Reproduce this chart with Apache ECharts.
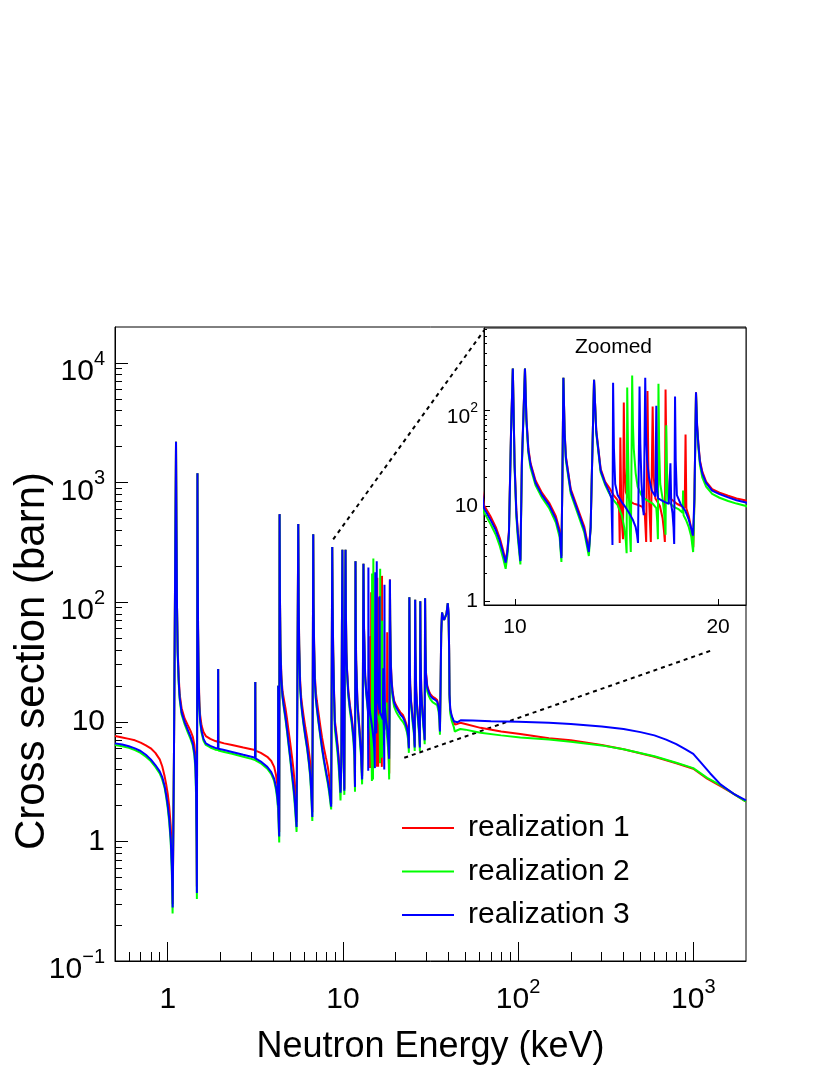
<!DOCTYPE html>
<html>
<head>
<meta charset="utf-8">
<script src="https://cdn.jsdelivr.net/npm/echarts@6/dist/echarts.min.js"></script>
<style>
  html, body { margin: 0; padding: 0; background: #fff; }
  #chart { width: 830px; height: 1075px; }
</style>
</head>
<body>
<div id="chart"></div>
<script>
const FONT = "'Liberation Sans', Arial, sans-serif";

const seriesNames = ['realization 1', 'realization 2', 'realization 3'];
const seriesColors = ['#ff0000', '#00ff00', '#0000ff'];

// [energy keV, cross section barn]
const realization1 = [
  [0.5,7.6],[0.55,7.4],[0.6,7.2],[0.65,7.0],[0.7,6.7],[0.75,6.35],[0.8,6.0],[0.85,5.5],[0.9,4.85],[0.93,4.25],[0.96,3.5],[0.98,3.0],[1.0,2.5],[1.02,1.95],[1.04,1.35],[1.055,0.8],[1.068,0.3],[1.085,5],[1.1,120],[1.115,2200],[1.122,400],[1.13,90],[1.14,40],[1.155,24],[1.17,17],[1.2,13],[1.25,10.6],[1.3,9.4],[1.35,8.4],[1.39,7.5],[1.42,6.4],[1.44,5.0],[1.452,3.0],[1.462,1.2],[1.467,0.42],[1.478,1200],[1.484,200],[1.49,62],[1.5,28],[1.515,15],[1.53,11.5],[1.56,9.3],[1.6,8.2],[1.65,7.6],[1.75,7.2],[1.87,6.9],[1.935,6.8],[1.94,27.7],[1.945,6.8],[2.1,6.6],[2.33,6.4],[2.7,6.1],[3.0,5.9],[3.15,5.8],[3.16,21.5],[3.17,5.75],[3.4,5.5],[3.7,5.1],[3.9,4.7],[4.05,4.2],[4.15,3.6],[4.22,3.0],[4.26,2.5],[4.27,20],[4.28,2.2],[4.31,1.5],[4.33,1.2],[4.35,545],[4.37,120],[4.4,45],[4.45,25],[4.52,18],[4.6,15.5],[4.7,13],[4.8,10.5],[4.9,8.3],[5.0,6.7],[5.12,5.1],[5.22,4.0],[5.3,3.1],[5.37,2.2],[5.44,1.45],[5.56,450],[5.59,110],[5.63,45],[5.7,22],[5.78,16],[5.86,13.5],[5.95,11.5],[6.1,9],[6.25,7.3],[6.4,5.6],[6.5,4.6],[6.58,3.5],[6.64,2.5],[6.69,1.75],[6.77,370],[6.8,100],[6.85,45],[6.92,24],[7.0,18],[7.1,15],[7.25,12],[7.45,9],[7.6,7.4],[7.8,6],[8.0,5],[8.2,4.2],[8.35,3.5],[8.45,2.9],[8.57,2.05],[8.69,290],[8.73,110],[8.8,40],[8.9,18],[9.0,10.2],
  [9.2,7.8],[9.37,6.0],[9.5,4.6],[9.6,3.5],[9.69,2.65],[9.75,3.5],[9.8,5.5],[9.87,62],[9.93,275],[9.97,60],[9.99,28],[10.05,9],[10.1,5.5],[10.19,2.75],[10.24,28],[10.35,275],[10.4,85],[10.47,40],[10.55,28],[10.73,18.5],[10.97,13.7],[11.24,10.8],[11.5,7.8],[11.65,5.6],[11.72,3.0],[11.76,20],[11.8,220],[11.85,60],[11.9,33],[12.1,15],[12.4,9.3],[12.67,6.1],[12.87,3.5],[12.95,6],[13.0,20],[13.1,210],[13.2,62],[13.4,24.5],
  [13.6,18],[13.8,15.5],[14.0,13],[14.2,11.5],[14.27,9],[14.3,4.1],[14.33,52],[14.37,12],[14.42,6],[14.46,4.5],[14.5,121],[14.54,25],[14.6,14],[14.8,11.2],[15.0,10.6],[15.2,10.3],[15.45,9.8],[15.58,8],[15.65,4.2],[15.72,160],[15.77,25],[15.82,10],[15.9,4.2],[16.0,110],[16.06,20],[16.15,12],[16.4,10],[16.55,7.5],[16.63,5.5],[16.68,4.2],[16.72,166],[16.77,30],[16.85,15],[17.0,12],[17.4,10.5],[17.85,9.6],[17.9,56],[17.95,9.4],[18.1,7.8],[18.25,5.8],[18.33,4.3],[18.38,3.7],[18.45,12],[18.55,155],[18.62,70],[18.7,45],[18.8,30],[18.95,23],[19.2,18],[19.6,15],[20.1,13.8],[20.7,12.8],[21.3,12],[22,11.4],
  [22.6,10.4],[23.2,9.2],[23.6,7.8],[23.8,6.1],[23.95,110],[24.05,40],[24.2,21],[24.5,15],[24.8,12.5],[25.1,10.5],[25.4,9],[25.6,7.2],[25.7,6.3],[25.85,105],[25.95,40],[26.2,19],[26.5,14],[26.8,11.5],[27.1,9.5],[27.35,7.8],[27.5,6.3],[27.65,102],[27.75,40],[28.0,19],[28.3,14],[28.6,11.5],[28.9,9.5],[29.2,8],[29.3,7.2],[29.45,108],[29.6,45],[29.8,26],[30.3,20],[31.0,18],[31.6,17],[32.5,16.2],[33.5,15.8],[34.5,15.2],[35.2,13.5],[35.6,11],[35.8,8.6],[36.1,20],[36.4,55],[36.8,82],[37.2,76],[37.8,71],[38.5,70],[39.0,80],[39.7,98],[40.1,80],[40.4,40],[40.6,17],[41.0,12.5],[41.8,11],[43,9.9],[43.5,9.5],[45,9.6],[46.8,9.8],[50,9.6],[61,8.9],[80,8.3],[103,7.9],[150,7.3],[200,7.0],[300,6.4],[400,5.9],[600,5.1],[800,4.5],[1000,4.05],[1200,3.35],[1430,2.9],[1700,2.5],[2000,2.15]
];

const realization2 = [
  [0.5,6.4],[0.55,6.25],[0.6,6.05],[0.65,5.8],[0.7,5.5],[0.75,5.1],[0.8,4.7],[0.85,4.2],[0.9,3.7],[0.93,3.3],[0.96,2.8],[0.98,2.35],[1.0,1.9],[1.02,1.45],[1.04,0.98],[1.055,0.56],[1.066,0.25],[1.085,5],[1.1,120],[1.115,2200],[1.122,400],[1.13,88],[1.14,36],[1.155,21],[1.17,15.3],[1.2,11.5],[1.25,9.5],[1.3,8.2],[1.35,7.2],[1.39,6.3],[1.42,5.2],[1.44,3.9],[1.452,2.3],[1.462,0.9],[1.467,0.33],[1.478,1200],[1.484,185],[1.49,58],[1.5,25],[1.515,13],[1.53,10],[1.56,8.1],[1.6,6.95],[1.65,6.4],[1.75,6.1],[1.87,5.85],[1.935,5.8],[1.94,27.7],[1.945,5.75],[2.1,5.6],[2.33,5.4],[2.7,5.1],[3.0,4.9],[3.15,4.8],[3.16,21.5],[3.17,4.75],[3.4,4.5],[3.7,4.05],[3.9,3.65],[4.05,3.2],[4.15,2.7],[4.22,2.25],[4.26,1.9],[4.27,20],[4.28,1.7],[4.31,1.2],[4.33,0.98],[4.35,545],[4.37,110],[4.4,40],[4.45,22],[4.52,16],[4.6,13],[4.7,10.5],[4.8,8.2],[4.9,6.3],[5.0,4.9],[5.12,3.5],[5.22,2.7],[5.3,2.1],[5.37,1.6],[5.44,1.2],[5.56,450],[5.59,100],[5.63,40],[5.7,19],[5.78,14],[5.86,11.5],[5.95,9.6],[6.1,7.4],[6.25,5.9],[6.4,4.4],[6.5,3.5],[6.58,2.6],[6.64,1.95],[6.69,1.48],[6.77,370],[6.8,90],[6.85,40],[6.92,21],[7.0,15.5],[7.1,12.7],[7.25,9.9],[7.45,7.3],[7.6,5.9],[7.8,4.6],[8.0,3.7],[8.2,3.05],[8.35,2.55],[8.45,2.2],[8.57,1.85],[8.69,290],[8.73,100],[8.8,36],[8.9,16],[9.0,8.6],
  [9.2,6.5],[9.37,5.0],[9.5,3.8],[9.6,2.9],[9.69,2.2],[9.75,3.1],[9.8,5],[9.87,58],[9.93,275],[9.97,55],[9.99,25],[10.05,7.8],[10.1,4.7],[10.19,2.45],[10.24,25],[10.35,275],[10.4,78],[10.47,36],[10.55,25],[10.73,16.5],[10.97,12.2],[11.24,9.5],[11.5,6.7],[11.65,4.7],[11.72,2.6],[11.76,20],[11.8,220],[11.85,55],[11.9,30],[12.1,13.5],[12.4,8.2],[12.67,5.3],[12.87,3.0],[12.95,6],[13.0,20],[13.1,210],[13.2,58],[13.4,22.5],
  [13.6,16.8],[13.8,13.5],[14.0,11.5],[14.2,10.2],[14.4,8],[14.52,6],[14.6,4.3],[14.64,3.2],[14.67,174],[14.71,40],[14.76,12],[14.81,5],[14.85,3.3],[14.92,232],[14.96,70],[15.0,40],[15.1,22],[15.2,16],[15.4,13],[15.6,11.8],[16.0,10.6],[16.2,9.5],[16.25,7],[16.29,4.5],[16.32,190],[16.36,40],[16.42,17],[16.55,12],[16.65,8],[16.72,5],[16.76,70],[16.8,20],[16.88,11],[17.2,9.8],[17.5,9.2],[17.72,8.5],[17.75,14.5],[17.78,8],[17.95,7],[18.1,6],[18.25,4.8],[18.37,3.3],[18.45,11],[18.55,150],[18.62,65],[18.7,41],[18.8,27],[18.95,20],[19.2,16],[19.6,13.4],[20.1,12.2],[20.7,11.3],[21.3,10.6],[22,10],
  [22.6,9.3],[23.2,8.2],[23.6,7],[23.8,5.5],[23.95,110],[24.05,38],[24.2,18.5],[24.5,13.5],[24.8,11.2],[25.1,9.3],[25.4,8],[25.6,6.5],[25.7,5.7],[25.85,105],[25.95,38],[26.2,17],[26.5,12.6],[26.8,10.3],[27.1,8.5],[27.35,7],[27.5,5.7],[27.65,102],[27.75,38],[28.0,17],[28.3,12.6],[28.6,10.3],[28.9,8.5],[29.2,7.2],[29.3,6.5],[29.45,108],[29.6,41],[29.8,23],[30.3,18],[31.0,16.3],[31.6,15.4],[32.5,14.6],[33.5,14.2],[34.5,13.8],[35.2,12.1],[35.6,9.8],[35.8,7.8],[36.1,19],[36.4,53],[36.8,82],[37.2,76],[37.8,71],[38.5,70],[39.0,80],[39.7,98],[40.1,78],[40.4,38],[40.6,16],[41.0,11.8],[41.8,10.2],[43,9.0],[43.5,8.3],[45,8.5],[46.8,8.7],[50,8.6],[61,8.1],[80,7.7],[103,7.4],[150,7.1],[200,6.8],[300,6.35],[400,5.9],[600,5.15],[800,4.55],[1000,4.1],[1200,3.4],[1430,2.95],[1700,2.5],[2000,2.15]
];

const realization3 = [
  [0.5,6.6],[0.55,6.45],[0.6,6.25],[0.65,6.0],[0.7,5.7],[0.75,5.3],[0.8,4.85],[0.85,4.35],[0.9,3.85],[0.93,3.45],[0.96,2.9],[0.98,2.45],[1.0,2.0],[1.02,1.55],[1.04,1.05],[1.055,0.62],[1.067,0.28],[1.085,5],[1.1,120],[1.115,2200],[1.122,400],[1.13,90],[1.14,38],[1.155,22],[1.17,16],[1.2,12],[1.25,9.9],[1.3,8.6],[1.35,7.5],[1.39,6.6],[1.42,5.5],[1.44,4.2],[1.452,2.6],[1.462,1.0],[1.467,0.37],[1.478,1200],[1.484,190],[1.49,60],[1.5,26],[1.515,13.5],[1.53,10.4],[1.56,8.4],[1.6,7.2],[1.65,6.6],[1.75,6.3],[1.87,6.05],[1.935,6.0],[1.94,27.7],[1.945,5.95],[2.1,5.8],[2.33,5.6],[2.7,5.3],[3.0,5.1],[3.15,5.0],[3.16,21.5],[3.17,4.95],[3.4,4.65],[3.7,4.2],[3.9,3.8],[4.05,3.35],[4.15,2.85],[4.22,2.4],[4.26,2.0],[4.27,20],[4.28,1.8],[4.31,1.3],[4.33,1.1],[4.35,545],[4.37,115],[4.4,42],[4.45,23],[4.52,16.5],[4.6,13.5],[4.7,11],[4.8,8.6],[4.9,6.6],[5.0,5.1],[5.12,3.7],[5.22,2.9],[5.3,2.3],[5.37,1.75],[5.44,1.32],[5.56,450],[5.59,105],[5.63,42],[5.7,20],[5.78,14.5],[5.86,12],[5.95,10],[6.1,7.7],[6.25,6.1],[6.4,4.6],[6.5,3.7],[6.58,2.8],[6.64,2.1],[6.69,1.6],[6.77,370],[6.8,95],[6.85,42],[6.92,22],[7.0,16],[7.1,13.2],[7.25,10.3],[7.45,7.6],[7.6,6.1],[7.8,4.8],[8.0,3.9],[8.2,3.2],[8.35,2.7],[8.45,2.35],[8.57,1.95],[8.69,290],[8.73,105],[8.8,38],[8.9,17],[9.0,9.5],
  [9.2,7.2],[9.37,5.6],[9.5,4.3],[9.6,3.3],[9.69,2.55],[9.75,3.4],[9.8,5.3],[9.87,60],[9.93,275],[9.97,58],[9.99,27],[10.05,8.5],[10.1,5.2],[10.19,2.65],[10.24,27],[10.35,275],[10.4,82],[10.47,38],[10.55,27],[10.73,17.5],[10.97,13],[11.24,10.2],[11.5,7.3],[11.65,5.2],[11.72,2.85],[11.76,20],[11.8,220],[11.85,58],[11.9,32],[12.1,14.3],[12.4,8.8],[12.67,5.7],[12.87,3.3],[12.95,6],[13.0,20],[13.1,210],[13.2,60],[13.4,23.5],
  [13.6,17.5],[13.8,14],[13.9,12],[13.95,3.9],[13.98,195],[14.02,40],[14.08,17],[14.2,13],[14.4,11],[14.6,9.6],[14.76,8.5],[14.95,7.2],[15.1,6.0],[15.17,5],[15.22,4.1],[15.3,178],[15.34,45],[15.4,18],[15.47,10],[15.52,8],[15.6,220],[15.64,60],[15.7,30],[15.8,20],[15.95,14.5],[16.15,12.6],[16.2,112],[16.25,15],[16.3,12],[16.6,11.2],[16.9,10.5],[17.0,28],[17.05,10.2],[17.12,8.5],[17.18,6],[17.22,4.0],[17.27,140],[17.31,30],[17.38,13],[17.6,10.5],[17.9,8.8],[18.1,7.2],[18.25,5.8],[18.36,4.9],[18.45,12],[18.55,155],[18.62,70],[18.7,44],[18.8,29],[18.95,22],[19.2,17.5],[19.6,14.5],[20.1,13.3],[20.7,12.3],[21.3,11.5],[22,10.9],
  [22.6,10.0],[23.2,8.8],[23.6,7.5],[23.8,6.0],[23.95,110],[24.05,40],[24.2,20],[24.5,14.5],[24.8,12],[25.1,10],[25.4,8.6],[25.6,7],[25.7,6.1],[25.85,105],[25.95,40],[26.2,18],[26.5,13.5],[26.8,11],[27.1,9.1],[27.35,7.5],[27.5,6.1],[27.65,102],[27.75,40],[28.0,18],[28.3,13.5],[28.6,11],[28.9,9.1],[29.2,7.7],[29.3,7.0],[29.45,108],[29.6,44],[29.8,25],[30.3,19.5],[31.0,17.5],[31.6,16.5],[32.5,15.7],[33.5,15.3],[34.5,14.8],[35.2,13],[35.6,10.5],[35.8,8.3],[36.1,20],[36.4,55],[36.8,82],[37.2,76],[37.8,71],[38.5,70],[39.0,80],[39.7,98],[40.1,80],[40.4,40],[40.6,17],[41.0,12.8],[41.8,11.2],[43,10.1],[45,9.9],[47,10.3],[55,10.25],[70,10.1],[100,10.0],[150,9.8],[200,9.6],[300,9.15],[400,8.7],[500,8.2],[600,7.7],[700,7.1],[800,6.5],[900,5.9],[1000,5.4],[1100,4.6],[1250,3.7],[1430,3.0],[1700,2.5],[2000,2.2]
];

// dotted guides from the main plot to the zoomed pad
const guideUpper = [[8.8, 335], [64, 18800]];
const guideLower = [[22.4, 5.0], [1300, 40]];

const mainXRange = [0.5, 2000];
const mainYRange = [0.1, 20000];
const insetXRange = [9, 22];
const insetYRange = [0.92, 730];

const mainXMajor = [1, 10, 100, 1000];
const mainXMinor = [0.6, 0.7, 0.8, 0.9, 2, 3, 4, 5, 6, 7, 8, 9, 20, 30, 40, 50, 60, 70, 80, 90, 200, 300, 400, 500, 600, 700, 800, 900];
const mainYMajor = [0.1, 1, 10, 100, 1000, 10000];
const mainYMinor = [0.2, 0.3, 0.4, 0.5, 0.6, 0.7, 0.8, 0.9, 2, 3, 4, 5, 6, 7, 8, 9, 20, 30, 40, 50, 60, 70, 80, 90, 200, 300, 400, 500, 600, 700, 800, 900, 2000, 3000, 4000, 5000, 6000, 7000, 8000, 9000];
const insetXMajor = [10, 20];
const insetYMajor = [1, 10, 100];
const insetYMinor = [2, 3, 4, 5, 6, 7, 8, 9, 20, 30, 40, 50, 60, 70, 80, 90, 200, 300, 400, 500, 600, 700];

const lg = Math.log10;
const toLog = (pts) => pts.map(([e, s]) => [lg(e), lg(s)]);
const expText = (n) => (n < 0 ? '\u2212' + (-n) : String(n));

// x labels hang from the axis: base digits share one baseline, exponent sits above
const xPowLabel = (v) => {
    const n = Math.round(v);
    if (n === 0) return '{b|1}';
    if (n === 1) return '{b|10}';
    return '{b|10}{sup|' + expText(n) + '}';
};

// y labels are centred on the tick as a whole box (ROOT style)
const yPowLabel = (v) => {
    const n = Math.round(v);
    if (n === 0) return '{p|1}';
    if (n === 1) return '{p|10}';
    return '{b|10}{sup|' + expText(n) + '}';
};

const tok = (size, extra) => Object.assign({ fontSize: size, fontFamily: FONT, color: '#000' }, extra || {});

const data = [realization1, realization2, realization3];
const black = { color: '#000', width: 1 };

const chart = echarts.init(document.getElementById('chart'), null, { renderer: 'canvas' });

const series = [];
data.forEach((pts, i) => {
    [[0, 0], [2, 2]].forEach(([xi, yi]) => {
        series.push({
            type: 'line',
            name: seriesNames[i],
            xAxisIndex: xi,
            yAxisIndex: yi,
            data: toLog(pts),
            showSymbol: false,
            symbol: 'none',
            clip: true,
            silent: true,
            color: seriesColors[i],
            lineStyle: { color: seriesColors[i], width: 2 },
            z: 3 + i,
        });
    });
});
[guideUpper, guideLower].forEach((g) => {
    series.push({
        type: 'line',
        name: 'guide',
        xAxisIndex: 0,
        yAxisIndex: 0,
        data: toLog(g),
        showSymbol: false,
        symbol: 'none',
        silent: true,
        lineStyle: { color: '#000', width: 2, type: [4, 4] },
        z: 2,
    });
});

chart.setOption({
    animation: false,
    backgroundColor: '#fff',
    grid: [
        { left: 115, top: 327, width: 631, height: 634, show: true, borderColor: '#000', borderWidth: 1, outerBoundsMode: 'none', containLabel: false },
        { left: 484, top: 328, width: 262, height: 277, show: true, borderColor: '#000', borderWidth: 1, backgroundColor: '#fff', outerBoundsMode: 'none', containLabel: false },
    ],
    legend: {
        data: seriesNames,
        orient: 'vertical',
        left: 397,
        top: 808,
        icon: 'rect',
        itemWidth: 52,
        itemHeight: 2,
        itemGap: 13.5,
        selectedMode: false,
        textStyle: { fontSize: 30, fontFamily: FONT, color: '#000', lineHeight: 30, padding: [0, 0, 0, 9] },
    },
    graphic: [
        { type: 'text', left: 575, top: 337, style: { text: 'Zoomed', fontSize: 21, fontFamily: FONT, fill: '#000' } },
    ],
    xAxis: [
        {
            type: 'value', gridIndex: 0, position: 'bottom',
            min: lg(mainXRange[0]), max: lg(mainXRange[1]),
            axisLine: { show: true, onZero: false, lineStyle: black },
            axisTick: { show: true, inside: true, length: 19, customValues: mainXMajor.map(lg), lineStyle: black },
            axisLabel: {
                customValues: mainXMajor.map(lg), formatter: xPowLabel, margin: 16,
                rich: { b: tok(30, { padding: [8, 0, 0, 0] }), sup: tok(20, { verticalAlign: 'top' }) },
            },
            splitLine: { show: false },
            name: 'Neutron Energy (keV)', nameLocation: 'middle', nameGap: 68, nameMoveOverlap: false,
            nameTextStyle: { fontSize: 36, fontFamily: FONT, color: '#000' },
        },
        {
            type: 'value', gridIndex: 0, position: 'bottom',
            min: lg(mainXRange[0]), max: lg(mainXRange[1]),
            axisLine: { show: false, onZero: false },
            axisTick: { show: true, inside: true, length: 9, customValues: mainXMinor.map(lg), lineStyle: black },
            axisLabel: { show: false },
            splitLine: { show: false },
        },
        {
            type: 'value', gridIndex: 1, position: 'bottom',
            min: lg(insetXRange[0]), max: lg(insetXRange[1]),
            axisLine: { show: true, onZero: false, lineStyle: black },
            axisTick: { show: true, inside: true, length: 6, customValues: insetXMajor.map(lg), lineStyle: black },
            axisLabel: {
                customValues: insetXMajor.map(lg), margin: 12,
                formatter: (v) => String(Math.round(Math.pow(10, v))),
                fontSize: 21, fontFamily: FONT, color: '#000',
            },
            splitLine: { show: false },
        },
    ],
    yAxis: [
        {
            type: 'value', gridIndex: 0, position: 'left',
            min: lg(mainYRange[0]), max: lg(mainYRange[1]),
            axisLine: { show: true, onZero: false, lineStyle: black },
            axisTick: { show: true, inside: true, length: 13, customValues: mainYMajor.map(lg), lineStyle: black },
            axisLabel: {
                customValues: mainYMajor.map(lg), formatter: yPowLabel, margin: 10,
                rich: {
                    p: tok(30),
                    b: tok(30, { padding: [18, 0, 0, 0] }),
                    sup: tok(20, { padding: [10, 0, 0, 0], verticalAlign: 'top' }),
                },
            },
            splitLine: { show: false },
            name: 'Cross section (barn)', nameLocation: 'middle', nameGap: 62, nameRotate: 90, nameMoveOverlap: false,
            nameTextStyle: { fontSize: 42, fontFamily: FONT, color: '#000', padding: [0, 34, 0, 0] },
        },
        {
            type: 'value', gridIndex: 0, position: 'left',
            min: lg(mainYRange[0]), max: lg(mainYRange[1]),
            axisLine: { show: false, onZero: false },
            axisTick: { show: true, inside: true, length: 7, customValues: mainYMinor.map(lg), lineStyle: black },
            axisLabel: { show: false },
            splitLine: { show: false },
        },
        {
            type: 'value', gridIndex: 1, position: 'left',
            min: lg(insetYRange[0]), max: lg(insetYRange[1]),
            axisLine: { show: true, onZero: false, lineStyle: black },
            axisTick: { show: true, inside: true, length: 6, customValues: insetYMajor.map(lg), lineStyle: black },
            axisLabel: {
                customValues: insetYMajor.map(lg), formatter: yPowLabel, margin: 6,
                rich: {
                    p: tok(21),
                    b: tok(21, { padding: [14, 0, 0, 0] }),
                    sup: tok(14, { padding: [8, 0, 0, 0], verticalAlign: 'top' }),
                },
            },
            splitLine: { show: false },
        },
        {
            type: 'value', gridIndex: 1, position: 'left',
            min: lg(insetYRange[0]), max: lg(insetYRange[1]),
            axisLine: { show: false, onZero: false },
            axisTick: { show: true, inside: true, length: 3, customValues: insetYMinor.map(lg), lineStyle: black },
            axisLabel: { show: false },
            splitLine: { show: false },
        },
    ],
    series: series,
});
</script>
</body>
</html>
